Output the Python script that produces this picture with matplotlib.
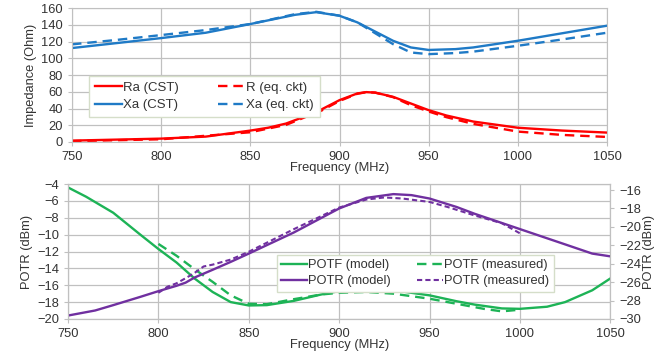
import numpy as np
import matplotlib.pyplot as plt

plt.rcParams['font.family'] = ['Liberation Sans', 'DejaVu Sans']
plt.rcParams['font.size'] = 9.3

### data ###

# top panel: impedance (Ohm) vs frequency (MHz)
f_x = [750, 775, 800, 825, 850, 875, 887, 900, 910, 920, 930, 940, 950, 965, 975, 1000, 1025, 1050]
xa_cst = [112.3, 118.2, 124.2, 130.6, 141, 152, 155.2, 150.9, 143, 132, 121, 113, 110, 111, 113,
          121, 130, 139]

f_xeq = [750, 775, 800, 825, 850, 875, 887, 900, 910, 920, 930, 940, 950, 965, 975, 1000, 1025, 1050]
xa_eq = [116.7, 122, 127.8, 133.8, 141, 152.8, 155.6, 151, 143, 130, 117, 107, 105, 106.3, 108,
         115, 122.6, 130.6]

f_r = [750, 800, 825, 850, 860, 870, 880, 890, 900, 910, 915, 920, 930, 940, 950, 960, 975, 1000, 1025, 1050]
ra_cst = [1.6, 4, 6.4, 13.6, 17, 22, 30, 39, 50, 58, 59.6, 59, 54, 46, 38, 31.6, 24.4, 17, 13.6, 11.2]

f_req = [750, 800, 850, 870, 890, 900, 910, 915, 920, 930, 940, 950, 960, 975, 1000, 1025, 1050]
r_eq = [1, 3.2, 11.6, 20.4, 37.6, 49, 57.6, 59.5, 59, 53.6, 44, 36.4, 29.6, 21.6, 12.4, 8.4, 6]

# bottom panel: POTF on left axis, POTR on right axis (dBm)
f_potf = [750, 760, 775, 790, 800, 810, 820, 830, 840, 850, 860, 875, 890, 900, 915, 930, 950,
          965, 975, 990, 1000, 1015, 1025, 1040, 1050]
potf_model = [-4.4, -5.5, -7.4, -10.0, -11.7, -13.3, -15.2, -16.8, -18.0, -18.4, -18.36, -17.85,
              -17.1, -16.7, -16.5, -16.6, -17.2, -17.9, -18.3, -18.75, -18.8, -18.55, -18.0,
              -16.6, -15.2]

f_potf_m = [800, 810, 820, 830, 840, 850, 860, 875, 890, 900, 915, 930, 950, 965, 980, 990, 1000]
potf_meas = [-11.1, -12.5, -14.1, -15.6, -17.2, -18.2, -18.25, -17.65, -17.1, -16.9, -16.8, -17.0,
             -17.6, -18.2, -18.8, -19.1, -18.9]

f_potr = [750, 765, 775, 790, 800, 810, 815, 820, 830, 840, 850, 875, 900, 915, 930, 940, 950,
          965, 975, 1000, 1025, 1040, 1050]
potr_model = [-29.63, -29.08, -28.5, -27.6, -26.98, -26.4, -26.06, -25.5, -24.66, -23.8, -22.9,
              -20.6, -18.0, -16.85, -16.44, -16.55, -16.92, -17.84, -18.58, -20.24, -21.9,
              -22.9, -23.2]

f_potr_m = [800, 805, 810, 815, 820, 825, 830, 840, 850, 875, 900, 915, 925, 935, 950, 960, 975,
            990, 1000]
potr_meas = [-27.16, -26.5, -26.13, -25.58, -25.0, -24.3, -24.1, -23.55, -22.7, -20.24, -17.9,
             -17.03, -16.8, -16.92, -17.29, -17.84, -18.76, -19.6, -20.7]

freq_ticks = [750, 800, 850, 900, 950, 1000, 1050]

RED = '#FF0000'
BLUE = '#1F7AC6'
GREEN = '#1DB356'
PURPLE = '#7030A0'
GRID = '#C0C0C0'
TXT = '#333333'


def style_axes(ax):
    ax.grid(True, color=GRID, lw=0.9)
    ax.set_axisbelow(True)
    for s in ax.spines.values():
        s.set_color(GRID)
    ax.tick_params(colors=TXT, labelcolor=TXT, length=3, color=GRID, labelsize=9.3)


fig = plt.figure(figsize=(6.67, 3.54), dpi=100)

# ---- top panel ----
ax1 = fig.add_axes([0.108, 0.599, 0.802, 0.378])
l_ra, = ax1.plot(f_r, ra_cst, color=RED, lw=1.7)
l_req, = ax1.plot(f_req, r_eq, color=RED, lw=1.7, ls=(0, (4, 2.5)))
l_xa, = ax1.plot(f_x, xa_cst, color=BLUE, lw=1.7)
l_xeq, = ax1.plot(f_xeq, xa_eq, color=BLUE, lw=1.7, ls=(0, (4, 2.5)))
ax1.set_xlim(750, 1050)
ax1.set_ylim(0, 160)
ax1.set_xticks(freq_ticks)
ax1.set_yticks(np.arange(0, 161, 20))
ax1.set_xlabel('Frequency (MHz)', color=TXT, labelpad=-1)
ax1.set_ylabel('Impedance (Ohm)', color=TXT, labelpad=3)
style_axes(ax1)
# column-major fill: order so rows read Ra | R, Xa | Xa
leg1 = ax1.legend([l_ra, l_xa, l_req, l_xeq],
                  ['Ra (CST)', 'Xa (CST)', 'R (eq. ckt)', 'Xa (eq. ckt)'], ncol=2,
                  loc='upper left', bbox_to_anchor=(0.02, 0.545), fancybox=False,
                  framealpha=1, edgecolor='#D5DEC9', fontsize=9.5, handlelength=2.0,
                  handletextpad=0.1, columnspacing=3.0, borderpad=0.45, labelspacing=0.4)
for t in leg1.get_texts():
    t.set_color(TXT)

# ---- bottom panel ----
ax2 = fig.add_axes([0.102, 0.099, 0.813, 0.381])
ax3 = ax2.twinx()
lf1, = ax2.plot(f_potf, potf_model, color=GREEN, lw=1.7)
lf2, = ax2.plot(f_potf_m, potf_meas, color=GREEN, lw=1.7, ls=(0, (4, 2.5)))
lr1, = ax3.plot(f_potr, potr_model, color=PURPLE, lw=1.7)
lr2, = ax3.plot(f_potr_m, potr_meas, color=PURPLE, lw=1.5, ls=(0, (2.5, 1.5)))
ax2.set_xlim(750, 1050)
ax2.set_ylim(-20, -4)
ax2.set_xticks(freq_ticks)
ax2.set_yticks(np.arange(-20, -3, 2))
ax3.set_ylim(-30, -15.35)
ax3.set_yticks(np.arange(-30, -15, 2))
ax2.set_xlabel('Frequency (MHz)', color=TXT, labelpad=-1)
ax2.set_ylabel('POTR (dBm)', color=TXT, labelpad=3)
ax3.set_ylabel('POTR (dBm)', color=TXT, labelpad=1)
style_axes(ax2)
ax3.grid(False)
for s in ax3.spines.values():
    s.set_color(GRID)
ax3.tick_params(colors=TXT, labelcolor=TXT, length=3, color=GRID, labelsize=9.3)
leg2 = ax3.legend([lf1, lr1, lf2, lr2],
                  ['POTF (model)', 'POTR (model)', 'POTF (measured)', 'POTR (measured)'],
                  ncol=2, loc='upper left', bbox_to_anchor=(0.373, 0.525), fancybox=False,
                  framealpha=1, edgecolor='#D5DEC9', fontsize=9.3, handlelength=2.0,
                  handletextpad=0.1, columnspacing=2.0, borderpad=0.35, labelspacing=0.3)
for t in leg2.get_texts():
    t.set_color(TXT)

fig.savefig('out.png', dpi=100)
